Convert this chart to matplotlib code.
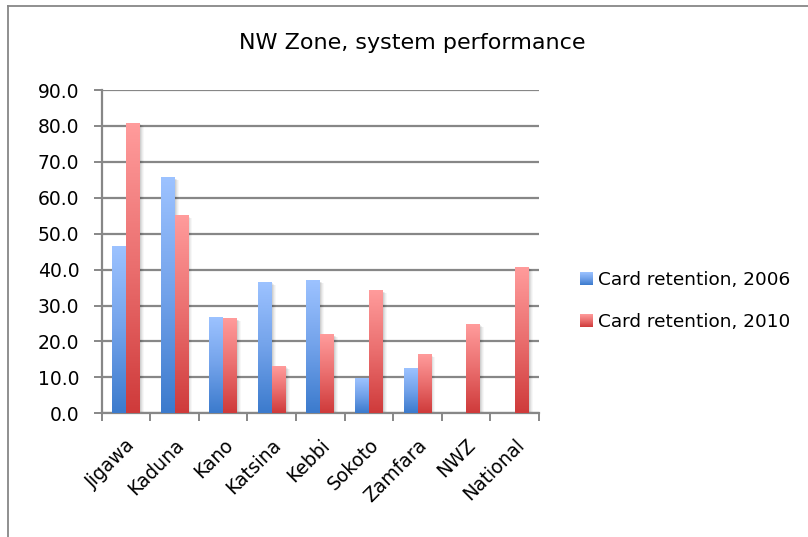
import numpy as np
import matplotlib
matplotlib.use("Agg")
import matplotlib.pyplot as plt
from matplotlib.colors import LinearSegmentedColormap
from matplotlib.legend_handler import HandlerBase
from matplotlib.image import BboxImage
from matplotlib.transforms import Bbox, TransformedBbox, ScaledTranslation
from matplotlib.lines import Line2D
from matplotlib.patches import Rectangle

### Data ###
states = ["Jigawa", "Kaduna", "Kano", "Katsina", "Kebbi",
          "Sokoto", "Zamfara", "NWZ", "National"]
ret_2006 = [46.3, 65.5, 26.5, 36.3, 36.8, 9.5, 12.3, np.nan, np.nan]
ret_2010 = [80.6, 54.9, 26.2, 12.9, 21.8, 34.0, 16.2, 24.6, 40.5]
yticks = np.arange(0, 91, 10)

### Styles ###
plt.rcParams['font.family'] = ['DejaVu Sans']
cmap_blue = LinearSegmentedColormap.from_list("b", ["#3c7bcd", "#72a2ea", "#9cc2ff"])
cmap_red = LinearSegmentedColormap.from_list("r", ["#cf3b3b", "#ea6e6e", "#ff9b9b"])
grid_col = "#878787"
grad = np.linspace(0, 1, 64).reshape(-1, 1)


class GradHandler(HandlerBase):
    def __init__(self, cmap):
        super().__init__()
        self.cmap = cmap

    def create_artists(self, legend, orig, xd, yd, w, h, fontsize, trans):
        bb = TransformedBbox(Bbox.from_bounds(-xd, -yd, w, h), trans)
        img = BboxImage(bb, cmap=self.cmap, interpolation="bilinear", origin="lower")
        img.set_data(grad)
        return [img]


fig = plt.figure(figsize=(8.08, 5.37), dpi=100)
W, H = 808, 537
ax = fig.add_axes([101.7 / W, 1 - 413.3 / H, (539 - 101.7) / W, (413.3 - 90) / H])

x = np.arange(len(states))
w = 1 / 3.5
px = 9 / 437.0  # one pixel in x data units

for vals, off, cm in [(ret_2006, -w / 2, cmap_blue), (ret_2010, w / 2, cmap_red)]:
    for xi, v in zip(x, vals):
        if np.isnan(v):
            continue
        x0 = xi + off - w / 2
        # soft shadow on the right
        for k, a in [(4, 0.03), (3, 0.04), (2, 0.06), (1, 0.07)]:
            ax.add_patch(Rectangle((x0 + k * px, 0), w, v - k * 0.15,
                                   facecolor="black", alpha=a, lw=0, zorder=2))
        ax.imshow(grad, cmap=cm, origin="lower", aspect="auto",
                  extent=[x0, x0 + w, 0, v], interpolation="bilinear", zorder=3)

ax.set_xlim(-0.5, len(states) - 0.5)
ax.set_ylim(0, 90)

# gridlines
ax.set_yticks(yticks)
ax.set_yticklabels([f"{t:.1f}" for t in yticks], fontsize=13.5)
ax.yaxis.grid(True, color=grid_col, lw=1.6, zorder=1)
ax.set_axisbelow(True)
ax.tick_params(axis="y", length=6, width=1.4, color=grid_col, pad=10)

ax.set_xticks(x)
ax.set_xticklabels(states, rotation=45, ha="right", rotation_mode="anchor", fontsize=13.5)
for lbl in ax.get_xticklabels():
    lbl.set_transform(lbl.get_transform() + ScaledTranslation(-0.03, -0.03, fig.dpi_scale_trans))
ax.set_xticks(np.arange(-0.5, len(states)), minor=True)
ax.tick_params(axis="x", which="major", length=0, pad=16)
ax.tick_params(axis="x", which="minor", length=6, width=1.4, color=grid_col)

for s in ["top", "right"]:
    ax.spines[s].set_visible(False)
ax.spines["left"].set_color(grid_col)
ax.spines["left"].set_linewidth(1.6)
ax.spines["bottom"].set_color(grid_col)
ax.spines["bottom"].set_linewidth(1.6)

fig.text(412.5 / W, 1 - 43 / H, "NW Zone, system performance",
         ha="center", va="center", fontsize=16)

handles = [Rectangle((0, 0), 1, 1), Rectangle((0, 0), 1, 1)]
fig.legend(handles, ["Card retention, 2006", "Card retention, 2010"],
           handler_map={handles[0]: GradHandler(cmap_blue), handles[1]: GradHandler(cmap_red)},
           loc="center left", bbox_to_anchor=(580 / W, 1 - 301 / H),
           frameon=False, fontsize=13.3, borderpad=0, borderaxespad=0,
           handlelength=0.7, handleheight=0.7, handletextpad=0.25, labelspacing=1.27)

# chart border
fig.add_artist(Line2D([7.5 / W, 1], [1 - 5.5 / H, 1 - 5.5 / H], color=grid_col, lw=1.3))
fig.add_artist(Line2D([7.5 / W, 7.5 / W], [0, 1 - 5.5 / H], color=grid_col, lw=1.3))

fig.savefig("out.png", dpi=100)
